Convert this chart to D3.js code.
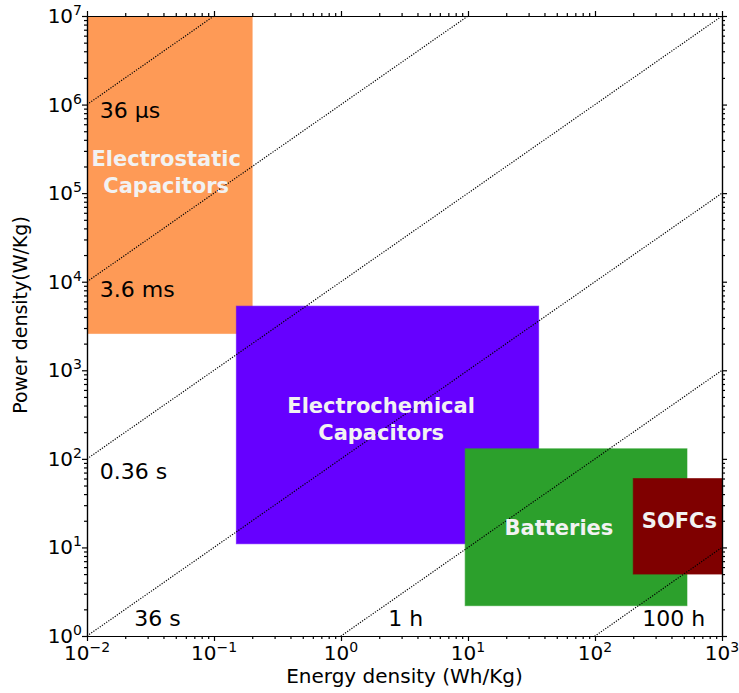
<!DOCTYPE html>
<html>
<head>
<meta charset="utf-8">
<script src="https://cdn.jsdelivr.net/npm/d3@7"></script>
<style>
  body { margin: 0; background: #fff; }
  svg { font-family: "DejaVu Sans", Verdana, sans-serif; }
</style>
</head>
<body>
<div id="plot"></div>
<script>

// regions (energy in Wh/Kg, power in W/Kg)
var techNames = [ [ "Electrostatic", "Capacitors" ], [ "Electrochemical", "Capacitors" ], [ "Batteries" ], [ "SOFCs" ] ];
var energyMin = [ 0.01, 0.15, 9.5, 200 ];
var energyMax = [ 0.2, 36, 530, 1000 ];
var powerMin = [ 2600, 11, 2.2, 5 ];
var powerMax = [ 1e7, 5300, 130, 60 ];
var techColors = [ "#fe9a56", "#6600ff", "#2ca02c", "#7f0000" ];
// where the region names sit
var nameE = [ 0.042, 2.07, 52, 462 ];
var nameP = [ 1.7e5, 280, 16.6, 20 ];

// constant discharge time lines, in hours
var lineTimes = [ 1e-8, 1e-6, 1e-4, 1e-2, 1, 100 ];
var timeLabels = [ "36 μs", "3.6 ms", "0.36 s", "36 s", "1 h", "100 h" ];
var timeLabelE = [ 0.0126, 0.0126, 0.0126, 0.0236, 2.36, 236 ];
var timeLabelP = [ 7e5, 6.8e3, 60, 1.3, 1.3, 1.3 ];

// ticks
var xMajor = [ -2, -1, 0, 1, 2, 3 ];
var yMajor = [ 0, 1, 2, 3, 4, 5, 6, 7 ];
var minorSteps = [ 2, 3, 4, 5, 6, 7, 8, 9 ];

var options = {
	width : 739,
	height : 693,
	margin : { top : 16, left : 87, right : 17, bottom : 57 }
};

var W = options.width - options.margin.left - options.margin.right;
var H = options.height - options.margin.top - options.margin.bottom;

var svg = d3.select("#plot").append("svg")
		.attr("width", options.width).attr("height", options.height);

var g = svg.append("g")
		.attr("transform", "translate(" + options.margin.left + "," + options.margin.top + ")");

var x = d3.scaleLog().domain([ 1e-2, 1e3 ]).range([ 0, W ]);
var y = d3.scaleLog().domain([ 1, 1e7 ]).range([ H, 0 ]);

g.append("clipPath").attr("id", "clip").append("rect")
		.attr("width", W).attr("height", H);

var plotArea = g.append("g").attr("clip-path", "url(#clip)");

// regions
plotArea.selectAll(".region").data(techNames).enter().append("rect")
		.attr("class", "region")
		.attr("x", function(d, i) { return x(energyMin[i]); })
		.attr("y", function(d, i) { return y(powerMax[i]); })
		.attr("width", function(d, i) { return x(energyMax[i]) - x(energyMin[i]); })
		.attr("height", function(d, i) { return y(powerMin[i]) - y(powerMax[i]); })
		.attr("fill", function(d, i) { return techColors[i]; })
		.attr("stroke", function(d, i) { return techColors[i]; })
		.attr("stroke-opacity", 0.6)
		.attr("stroke-width", 1);

// discharge time lines
var line = d3.line()
		.x(function(d) { return x(d[0]); })
		.y(function(d) { return y(d[1]); });

lineTimes.forEach(function(t) {
	var pts = x.domain().map(function(e) { return [ e, e / t ]; });
	plotArea.append("path").attr("d", line(pts))
			.attr("fill", "none").attr("stroke", "#000")
			.attr("stroke-width", 1.2).attr("stroke-dasharray", "1.2,1.4");
});

// region names
plotArea.selectAll(".region-name").data(techNames).enter().append("text")
		.attr("class", "region-name")
		.attr("text-anchor", "middle")
		.attr("font-weight", "bold")
		.attr("font-size", 21)
		.attr("fill", "#f2f2f2")
		.each(function(d, i) {
			var t = d3.select(this);
			var cx = x(nameE[i]), cy = y(nameP[i]);
			var lh = 27;
			var y0 = cy - (d.length - 1) * lh / 2 + 7;
			d.forEach(function(s, k) {
				t.append("tspan").attr("x", cx).attr("y", y0 + k * lh).text(s);
			});
		});

// time labels
g.selectAll(".time-label").data(timeLabels).enter().append("text")
		.attr("class", "time-label")
		.attr("x", function(d, i) { return x(timeLabelE[i]); })
		.attr("y", function(d, i) { return y(timeLabelP[i]); })
		.attr("font-size", 22)
		.attr("fill", "#000")
		.text(function(d) { return d; });

// axes
function minorOf(exps) {
	var out = [];
	exps.slice(0, -1).forEach(function(e) {
		minorSteps.forEach(function(m) { out.push(m * Math.pow(10, e)); });
	});
	return out;
}
var xMajVals = xMajor.map(function(e) { return Math.pow(10, e); });
var yMajVals = yMajor.map(function(e) { return Math.pow(10, e); });

function styleAxis(sel) {
	sel.select(".domain").attr("stroke", "#000").attr("stroke-width", 1.2);
	sel.selectAll(".tick line").attr("stroke", "#000").attr("stroke-width", 1.2);
}

var axes = [
	{ gen : d3.axisBottom, sc : x, tr : "translate(0," + H + ")", maj : xMajVals, min : minorOf(xMajor) },
	{ gen : d3.axisTop, sc : x, tr : "translate(0,0)", maj : xMajVals, min : minorOf(xMajor) },
	{ gen : d3.axisLeft, sc : y, tr : "translate(0,0)", maj : yMajVals, min : minorOf(yMajor) },
	{ gen : d3.axisRight, sc : y, tr : "translate(" + W + ",0)", maj : yMajVals, min : minorOf(yMajor) }
];

axes.forEach(function(a) {
	g.append("g").attr("transform", a.tr)
			.call(a.gen(a.sc).tickValues(a.min).tickSize(3).tickFormat("").tickSizeOuter(0))
			.call(styleAxis);
	g.append("g").attr("transform", a.tr)
			.call(a.gen(a.sc).tickValues(a.maj).tickSize(5).tickFormat("").tickSizeOuter(0))
			.call(styleAxis);
});

function expText(e) {
	return e < 0 ? "\u2212" + (-e) : "" + e;
}

// tick labels
var xl = g.selectAll(".x-tick-label").data(xMajor).enter().append("text")
		.attr("class", "x-tick-label")
		.attr("x", function(e) { return x(Math.pow(10, e)); })
		.attr("y", H + 24)
		.attr("text-anchor", "middle")
		.attr("font-size", 20);
xl.append("tspan").text("10");
xl.append("tspan").attr("dy", -8).attr("font-size", 14).text(expText);

var yl = g.selectAll(".y-tick-label").data(yMajor).enter().append("text")
		.attr("class", "y-tick-label")
		.attr("x", -5)
		.attr("y", function(e) { return y(Math.pow(10, e)) + 7; })
		.attr("text-anchor", "end")
		.attr("font-size", 20);
yl.append("tspan").text("10");
yl.append("tspan").attr("dy", -8).attr("font-size", 14).text(expText);

// axis titles
g.append("text")
		.attr("x", W / 2).attr("y", H + 47)
		.attr("text-anchor", "middle")
		.attr("font-size", 20)
		.text("Energy density (Wh/Kg)");

g.append("text")
		.attr("transform", "translate(" + (-60) + "," + (H / 2 - 11) + ") rotate(-90)")
		.attr("text-anchor", "middle")
		.attr("font-size", 19)
		.text("Power density(W/Kg)");

</script>
</body>
</html>
